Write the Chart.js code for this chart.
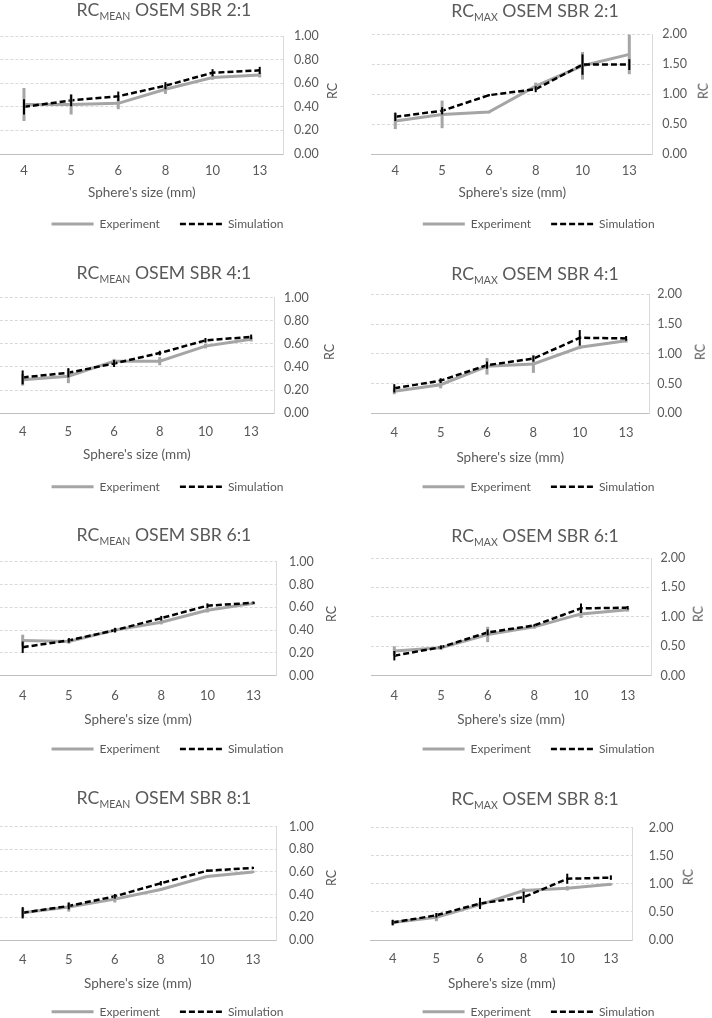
<!DOCTYPE html>
<html>
<head>
<meta charset="utf-8">
<script src="https://cdn.jsdelivr.net/npm/chart.js@4.4.0/dist/chart.umd.min.js"></script>
<style>
html, body { margin: 0; padding: 0; background: #ffffff; }
body { width: 712px; height: 1018px; position: relative; overflow: hidden; font-family: Lato, 'Noto Sans', sans-serif; color: #595959; }
canvas { position: absolute; }
.ttl { position: absolute; white-space: nowrap; font-size: 17.7px; line-height: 1; transform: translateX(-50%); }
.ttl .sub { font-size: 10.5px; position: relative; top: 4px; }
.rc { position: absolute; font-size: 12.5px; line-height: 1; white-space: nowrap; transform: translate(-50%, -50%) rotate(-90deg); }
</style>
</head>
<body>
<script>
// ---------- DATA ----------
const sizes = ['4', '5', '6', '8', '10', '13'];
const legendNames = ['Experiment', 'Simulation'];
const xTitle = "Sphere's size (mm)";
const yTitle = 'RC';

// RC_MEAN, SBR 2:1
const mean2Exp    = [0.42, 0.42, 0.43, 0.55, 0.65, 0.67];
const mean2ExpErr = [0.14, 0.085, 0.05, 0.04, 0.02, 0.02];
const mean2Sim    = [0.40, 0.455, 0.49, 0.58, 0.69, 0.71];
const mean2SimErr = [0.065, 0.05, 0.04, 0.03, 0.03, 0.03];
// RC_MAX, SBR 2:1
const max2Exp     = [0.55, 0.66, 0.70, 1.13, 1.47, 1.66];
const max2ExpErr  = [0.135, 0.23, 0.02, 0.06, 0.23, 0.33];
const max2Sim     = [0.62, 0.72, 0.98, 1.08, 1.49, 1.49];
const max2SimErr  = [0.07, 0.06, 0.02, 0.05, 0.17, 0.09];
// RC_MEAN, SBR 4:1
const mean4Exp    = [0.29, 0.32, 0.45, 0.45, 0.58, 0.64];
const mean4ExpErr = [0.05, 0.06, 0.02, 0.035, 0.02, 0.02];
const mean4Sim    = [0.31, 0.35, 0.43, 0.52, 0.63, 0.66];
const mean4SimErr = [0.06, 0.04, 0.03, 0.02, 0.02, 0.02];
// RC_MAX, SBR 4:1
const max4Exp     = [0.37, 0.48, 0.79, 0.83, 1.11, 1.22];
const max4ExpErr  = [0.05, 0.06, 0.14, 0.15, 0.03, 0.03];
const max4Sim     = [0.42, 0.55, 0.81, 0.92, 1.27, 1.26];
const max4SimErr  = [0.07, 0.04, 0.06, 0.05, 0.13, 0.04];
// RC_MEAN, SBR 6:1
const mean6Exp    = [0.31, 0.30, 0.40, 0.47, 0.575, 0.635];
const mean6ExpErr = [0.05, 0.02, 0.02, 0.02, 0.02, 0.01];
const mean6Sim    = [0.25, 0.31, 0.40, 0.505, 0.615, 0.64];
const mean6SimErr = [0.05, 0.02, 0.02, 0.02, 0.02, 0.01];
// RC_MAX, SBR 6:1
const max6Exp     = [0.42, 0.475, 0.70, 0.83, 1.05, 1.12];
const max6ExpErr  = [0.08, 0.04, 0.13, 0.03, 0.07, 0.03];
const max6Sim     = [0.34, 0.485, 0.735, 0.855, 1.145, 1.155];
const max6SimErr  = [0.08, 0.03, 0.05, 0.02, 0.08, 0.03];
// RC_MEAN, SBR 8:1
const mean8Exp    = [0.24, 0.29, 0.36, 0.445, 0.56, 0.60];
const mean8ExpErr = [0.04, 0.04, 0.03, 0.01, 0.01, 0.01];
const mean8Sim    = [0.24, 0.30, 0.385, 0.50, 0.61, 0.635];
const mean8SimErr = [0.05, 0.03, 0.02, 0.02, 0.01, 0.01];
// RC_MAX, SBR 8:1
const max8Exp     = [0.31, 0.405, 0.63, 0.88, 0.92, 0.99];
const max8ExpErr  = [0.04, 0.07, 0.05, 0.04, 0.04, 0.02];
const max8Sim     = [0.31, 0.44, 0.65, 0.76, 1.09, 1.11];
const max8SimErr  = [0.05, 0.04, 0.10, 0.10, 0.09, 0.04];

// y-axis ranges
const meanAxis = { max: 1, step: 0.2 };
const maxAxis  = { max: 2, step: 0.5 };

const panels = [
  { kind: 'MEAN', sbr: '2:1', axis: meanAxis, exp: mean2Exp, expErr: mean2ExpErr, sim: mean2Sim, simErr: mean2SimErr },
  { kind: 'MAX',  sbr: '2:1', axis: maxAxis,  exp: max2Exp,  expErr: max2ExpErr,  sim: max2Sim,  simErr: max2SimErr },
  { kind: 'MEAN', sbr: '4:1', axis: meanAxis, exp: mean4Exp, expErr: mean4ExpErr, sim: mean4Sim, simErr: mean4SimErr },
  { kind: 'MAX',  sbr: '4:1', axis: maxAxis,  exp: max4Exp,  expErr: max4ExpErr,  sim: max4Sim,  simErr: max4SimErr },
  { kind: 'MEAN', sbr: '6:1', axis: meanAxis, exp: mean6Exp, expErr: mean6ExpErr, sim: mean6Sim, simErr: mean6SimErr },
  { kind: 'MAX',  sbr: '6:1', axis: maxAxis,  exp: max6Exp,  expErr: max6ExpErr,  sim: max6Sim,  simErr: max6SimErr },
  { kind: 'MEAN', sbr: '8:1', axis: meanAxis, exp: mean8Exp, expErr: mean8ExpErr, sim: mean8Sim, simErr: mean8SimErr },
  { kind: 'MAX',  sbr: '8:1', axis: maxAxis,  exp: max8Exp,  expErr: max8ExpErr,  sim: max8Sim,  simErr: max8SimErr }
];

// ---------- LAYOUT (page pixels) ----------
// pl/pr/pt/pb: plot box, lc/ly: legend centre, xl/xt: x labels / x title centre y,
// lx: y tick label left edge, tcx/tb: title centre x / baseline, rcx: "RC" centre x
const layout = [
  { side: 'L', pl: 0.4,   pr: 283.3, pt: 30.7,  pb: 154,   lc: 167.5, ly: 224,    xl: 171,   xt: 193,   lx: 294,   tcx: 164, tb: 16.7,  rcx: 333 },
  { side: 'R', pl: 371.9, pr: 652.7, pt: 29.3,  pb: 154,   lc: 538.7, ly: 224,    xl: 170.7, xt: 192.7, lx: 662.2, tcx: 535, tb: 17.3,  rcx: 704 },
  { side: 'L', pl: -0.2,  pr: 274,   pt: 292.7, pb: 413.3, lc: 167.5, ly: 486.7,  xl: 432.3, xt: 455,   lx: 284,   tcx: 164, tb: 279.3, rcx: 330 },
  { side: 'R', pl: 371.1, pr: 649.3, pt: 291.7, pb: 413.3, lc: 538.5, ly: 486.7,  xl: 433.3, xt: 458,   lx: 657.2, tcx: 535, tb: 280.7, rcx: 701 },
  { side: 'L', pl: -0.4,  pr: 276.7, pt: 554.3, pb: 675.7, lc: 167.5, ly: 749,    xl: 695.7, xt: 720,   lx: 289,   tcx: 164, tb: 541.7, rcx: 331.7 },
  { side: 'R', pl: 371,   pr: 651,   pt: 553.3, pb: 675.7, lc: 538.5, ly: 749,    xl: 695.7, xt: 719.3, lx: 660.5, tcx: 535, tb: 542.7, rcx: 699 },
  { side: 'L', pl: -0.3,  pr: 276,   pt: 818.3, pb: 940,   lc: 167.5, ly: 1011.7, xl: 960,   xt: 983.3, lx: 289,   tcx: 164, tb: 804.3, rcx: 331.7 },
  { side: 'R', pl: 370.9, pr: 632.7, pt: 816.7, pb: 940,   lc: 538.5, ly: 1011.7, xl: 959.3, xt: 983.3, lx: 648.8, tcx: 535, tb: 805.7, rcx: 689 }
];

// ---------- STYLE ----------
const textColor = '#595959';
const expColor = '#a5a5a5';
const simColor = '#000000';
Chart.defaults.font.family = "Lato, 'Noto Sans', sans-serif";
Chart.defaults.color = textColor;

const errorBarPlugin = {
  id: 'errorBars',
  afterDatasetsDraw(chart, args, opts) {
    const ctx = chart.ctx;
    const yScale = chart.scales.y;
    chart.data.datasets.forEach((ds, i) => {
      const meta = chart.getDatasetMeta(i);
      const errs = opts.errors[i];
      ctx.save();
      ctx.strokeStyle = opts.colors[i];
      ctx.lineWidth = opts.widths[i];
      ctx.lineCap = 'butt';
      meta.data.forEach((pt, j) => {
        const v = ds.data[j], e = errs[j];
        ctx.beginPath();
        ctx.moveTo(pt.x, yScale.getPixelForValue(v - e));
        ctx.lineTo(pt.x, yScale.getPixelForValue(v + e));
        ctx.stroke();
      });
      ctx.restore();
    });
  }
};

function build(p, g) {
  const cl = g.side === 'L' ? -10 : 356;
  const cr = g.side === 'L' ? 356 : 712;
  const legPad = 20, legFont = 12, legItemH = 12;
  const legH = legItemH + legPad + 10;
  const legTop = g.ly - (legPad + legItemH / 2);
  const legBottom = legTop + legH;
  const R = 2 * g.lc - g.pl;
  const ct = Math.floor(g.pt - 12);
  const ch = Math.ceil(legBottom - ct);
  const cw = cr - cl;
  const xFont = 13, xTitleFont = 13.5, yFont = 12.5;
  const xH = legTop - g.pb;
  const xTickPad = g.xl - g.pb - xFont * 1.2 / 2;
  const xTitlePadB = legTop - g.xt - xTitleFont * 1.2 / 2;
  const yW = R - g.pr;
  const yTickPad = g.lx - g.pr;

  const canvas = document.createElement('canvas');
  canvas.width = cw; canvas.height = ch;
  canvas.style.left = cl + 'px'; canvas.style.top = ct + 'px';
  canvas.style.width = cw + 'px'; canvas.style.height = ch + 'px';
  document.body.appendChild(canvas);

  new Chart(canvas, {
    type: 'line',
    data: {
      labels: sizes,
      datasets: [
        { label: legendNames[0], data: p.exp, borderColor: expColor, backgroundColor: expColor, borderWidth: 3,
          pointRadius: 0, pointHoverRadius: 0, tension: 0, order: 1 },
        { label: legendNames[1], data: p.sim, borderColor: simColor, backgroundColor: simColor, borderWidth: 2.5,
          borderDash: [6, 3], pointRadius: 0, pointHoverRadius: 0, tension: 0, order: 0 }
      ]
    },
    options: {
      responsive: false,
      animation: false,
      events: [],
      layout: { padding: { left: g.pl - cl, right: cr - R, top: g.pt - ct, bottom: ch - (legBottom - ct) } },
      scales: {
        x: {
          offset: true,
          grid: { display: false, drawTicks: false },
          border: { display: true, color: '#bfbfbf', width: 1 },
          ticks: { color: textColor, font: { size: xFont }, padding: xTickPad, maxRotation: 0, autoSkip: false },
          title: { display: true, text: xTitle, color: textColor, font: { size: xTitleFont }, padding: { top: 0, bottom: xTitlePadB } },
          afterFit: s => { s.height = xH; }
        },
        y: {
          position: 'right',
          min: 0, max: p.axis.max,
          ticks: { stepSize: p.axis.step, callback: v => Number(v).toFixed(2), color: textColor, font: { size: yFont }, padding: yTickPad },
          grid: { color: '#d9d9d9', drawTicks: false, lineWidth: 1 },
          border: { display: true, color: '#d9d9d9', width: 1, dash: [3, 2] },
          afterFit: s => { s.width = yW; }
        }
      },
      plugins: {
        legend: {
          position: 'bottom',
          labels: {
            color: textColor, font: { size: legFont }, usePointStyle: true, pointStyle: 'line',
            pointStyleWidth: 42, padding: legPad,
            generateLabels: chart => chart.data.datasets.map((ds, i) => ({
              text: ds.label, datasetIndex: i, hidden: false,
              fillStyle: ds.borderColor, strokeStyle: ds.borderColor, fontColor: textColor,
              lineWidth: ds.borderWidth, lineDash: ds.borderDash || [], lineCap: 'butt',
              lineJoin: 'miter', pointStyle: 'line', rotation: 0
            }))
          }
        },
        tooltip: { enabled: false },
        errorBars: { errors: [p.expErr, p.simErr], colors: [expColor, simColor], widths: [3, 2] }
      }
    },
    plugins: [errorBarPlugin]
  });

  const t = document.createElement('div');
  t.className = 'ttl';
  t.innerHTML = 'RC<span class="sub">' + p.kind + '</span> OSEM SBR ' + p.sbr;
  t.style.left = g.tcx + 'px';
  t.style.top = (g.tb - 0.887 * 17.7) + 'px';
  document.body.appendChild(t);

  const r = document.createElement('div');
  r.className = 'rc';
  r.textContent = yTitle;
  r.style.left = g.rcx + 'px';
  r.style.top = ((g.pt + g.pb) / 2 - 1) + 'px';
  document.body.appendChild(r);
}

panels.forEach((p, i) => build(p, layout[i]));
</script>
</body>
</html>
